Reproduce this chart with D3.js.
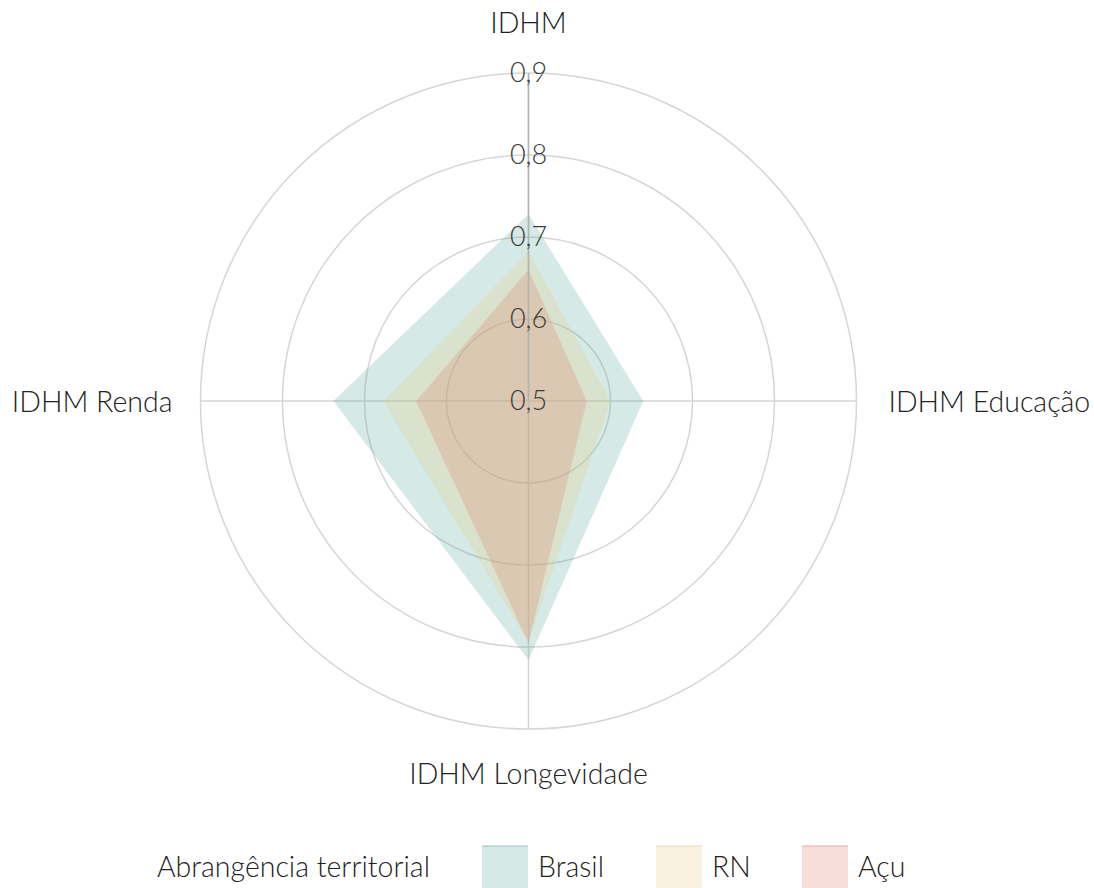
<!DOCTYPE html>
<html>
<head>
<meta charset="utf-8">
<script src="https://cdn.jsdelivr.net/npm/d3@7"></script>
<style>
  html, body { margin: 0; padding: 0; background: #fff; }
  svg text { font-family: "Lato Light", Lato, "Open Sans", sans-serif; font-weight: 300; }
</style>
</head>
<body>
<div id="chart"></div>
<script>
// Axes go clockwise from the top
const axes = ['IDHM', 'IDHM Educação', 'IDHM Longevidade', 'IDHM Renda'];
const seriesNames = ['Brasil', 'RN', 'Açu'];
const brasil = [0.728, 0.640, 0.816, 0.738];
const rn = [0.682, 0.600, 0.794, 0.677];
const acu = [0.660, 0.571, 0.795, 0.637];
const ticks = [0.5, 0.6, 0.7, 0.8, 0.9];
const tickLabels = ['0,5', '0,6', '0,7', '0,8', '0,9'];
const legendTitle = 'Abrangência territorial';

const COLORS = {
  Brasil: '#57ab9b',
  RN: '#e7cb83',
  'Açu': '#e37b63'
};

const width = 1094, height = 888;
const cx = 528.5, cy = 401;

const svg = d3.select('#chart')
  .append('svg')
  .attr('width', width)
  .attr('height', height);

const r = d3.scaleLinear().domain([0.5, 0.9]).range([0, 328]);
const angle = d3.scaleBand().domain(axes).range([0, 2 * Math.PI]).paddingInner(0).align(0);

const g = svg.append('g').attr('transform', `translate(${cx},${cy})`);

// Grid circles
g.append('g')
  .selectAll('circle')
  .data(ticks.slice(1))
  .join('circle')
  .attr('r', d => r(d))
  .attr('fill', 'none')
  .attr('stroke', '#d6d6d6')
  .attr('stroke-width', 1.5);

// Spokes
g.append('g')
  .selectAll('line')
  .data(axes)
  .join('line')
  .attr('x1', 0).attr('y1', 0)
  .attr('x2', d => r(0.9) * Math.sin(angle(d)))
  .attr('y2', d => -r(0.9) * Math.cos(angle(d)))
  .attr('stroke', '#d6d6d6')
  .attr('stroke-width', 1.5);

// Series polygons
const series = [
  { name: 'Brasil', values: brasil },
  { name: 'RN', values: rn },
  { name: 'Açu', values: acu }
];

const line = d3.lineRadial()
  .angle((d, i) => angle(axes[i]))
  .radius(d => r(d))
  .curve(d3.curveLinearClosed);

g.append('g')
  .selectAll('path')
  .data(series)
  .join('path')
  .attr('d', d => line(d.values))
  .attr('fill', d => COLORS[d.name])
  .attr('fill-opacity', 0.25)
  .attr('stroke', 'none');

// Radial axis line (top spoke, drawn darker)
g.append('line')
  .attr('x1', 0).attr('y1', 0)
  .attr('x2', 0).attr('y2', -r(0.9))
  .attr('stroke', '#b3b3b3')
  .attr('stroke-width', 1.5);

// Tick labels
g.append('g')
  .selectAll('text')
  .data(ticks)
  .join('text')
  .attr('x', 0)
  .attr('y', d => -r(d) - 2)
  .attr('text-anchor', 'middle')
  .attr('dominant-baseline', 'central')
  .attr('font-size', 27)
  .attr('fill', '#3a3a3a')
  .text((d, i) => tickLabels[i]);

// Axis labels
const labelPos = {
  'IDHM': { x: 0, y: -379, anchor: 'middle' },
  'IDHM Educação': { x: 360, y: 0, anchor: 'start' },
  'IDHM Longevidade': { x: 0, y: 372, anchor: 'middle' },
  'IDHM Renda': { x: -356, y: 0, anchor: 'end' }
};

g.append('g')
  .selectAll('text')
  .data(axes)
  .join('text')
  .attr('x', d => labelPos[d].x)
  .attr('y', d => labelPos[d].y)
  .attr('text-anchor', d => labelPos[d].anchor)
  .attr('dominant-baseline', 'central')
  .attr('font-size', 28.5)
  .attr('fill', '#222')
  .text(d => d);

// Legend
const legend = svg.append('g').attr('transform', 'translate(0,866)');

legend.append('text')
  .attr('x', 157)
  .attr('y', 0)
  .attr('dominant-baseline', 'central')
  .attr('font-size', 28.5)
  .attr('fill', '#222')
  .text(legendTitle);

const legendX = [482, 656, 802];
const item = legend.selectAll('g.item')
  .data(seriesNames)
  .join('g')
  .attr('class', 'item')
  .attr('transform', (d, i) => `translate(${legendX[i]},0)`);

item.append('rect')
  .attr('x', 0).attr('y', -20)
  .attr('width', 46).attr('height', 44)
  .attr('fill', d => COLORS[d])
  .attr('fill-opacity', 0.25);

item.append('line')
  .attr('x1', 0).attr('x2', 46)
  .attr('y1', -20).attr('y2', -20)
  .attr('stroke', d => COLORS[d])
  .attr('stroke-opacity', 0.4)
  .attr('stroke-width', 1.5);

item.append('text')
  .attr('x', 56)
  .attr('y', 0)
  .attr('dominant-baseline', 'central')
  .attr('font-size', 28.5)
  .attr('fill', '#222')
  .text(d => d);
</script>
</body>
</html>
